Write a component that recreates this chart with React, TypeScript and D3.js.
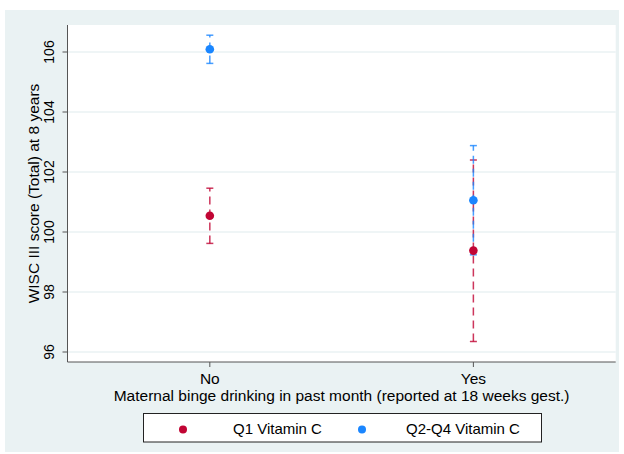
import React from "react";
import * as d3 from "d3";

const categories = ["No", "Yes"];
const seriesNames = ["Q1 Vitamin C", "Q2-Q4 Vitamin C"];
const seriesColors = ["#c10534", "#1a86ff"];
const q1Mean = [100.54, 99.38];
const q1Lower = [99.62, 96.35];
const q1Upper = [101.46, 102.4];
const q24Mean = [106.09, 101.06];
const q24Lower = [105.62, 99.24];
const q24Upper = [106.56, 102.88];
const yTicks = [96, 98, 100, 102, 104, 106];
const yTitle = "WISC III score (Total) at 8 years";
const xTitle = "Maternal binge drinking in past month (reported at 18 weeks gest.)";

const W = 624, H = 454;
const plot = { left: 67.5, right: 615.7, top: 25, bottom: 362 };
const font = "'Liberation Sans', Arial, Helvetica, sans-serif";

export default function App() {
  const x = d3.scalePoint<string>().domain(categories).range([plot.left, plot.right]).padding(0.54);
  const y = d3.scaleLinear().domain([96, 106]).range([352, 52]);
  const series = [
    { name: seriesNames[0], color: seriesColors[0], mean: q1Mean, lo: q1Lower, hi: q1Upper },
    { name: seriesNames[1], color: seriesColors[1], mean: q24Mean, lo: q24Lower, hi: q24Upper },
  ];
  const cy = (plot.top + plot.bottom) / 2;
  const cx = (plot.left + plot.right) / 2;
  return (
    <svg width={W} height={H} style={{ position: "absolute", left: 0, top: 0 }} fontFamily={font}>
      <rect x={0} y={0} width={W} height={H} fill="#ffffff" />
      <rect x={5} y={10} width={614} height={442} fill="#eaf2f3" />
      <rect x={plot.left} y={plot.top} width={plot.right - plot.left} height={plot.bottom - plot.top} fill="#ffffff" />
      {yTicks.map((t) => (
        <g key={t}>
          <line x1={plot.left} x2={plot.right} y1={y(t)} y2={y(t)} stroke="#eaf2f3" strokeWidth={1.5} />
          <line x1={plot.left - 5} x2={plot.left} y1={y(t)} y2={y(t)} stroke="#555" strokeWidth={1} />
          <text
            transform={`translate(${plot.left - 14},${y(t)}) rotate(-90)`}
            textAnchor="middle"
            fontSize={14}
            fill="#000"
          >
            {t}
          </text>
        </g>
      ))}
      <line x1={plot.left} x2={plot.left} y1={plot.top} y2={plot.bottom} stroke="#555" strokeWidth={1} />
      <line x1={plot.left} x2={plot.right} y1={plot.bottom} y2={plot.bottom} stroke="#555" strokeWidth={1} />
      {categories.map((c) => (
        <g key={c}>
          <line x1={x(c)} x2={x(c)} y1={plot.bottom} y2={plot.bottom + 5} stroke="#555" strokeWidth={1} />
          <text x={x(c)} y={384} textAnchor="middle" fontSize={15.5} fill="#000">
            {c}
          </text>
        </g>
      ))}
      <text x={cx} y={401} textAnchor="middle" fontSize={15.5} fill="#000">
        {xTitle}
      </text>
      <text transform={`translate(39,${cy}) rotate(-90)`} textAnchor="middle" fontSize={15.5} fill="#000">
        {yTitle}
      </text>
      {series.map((s) => (
        <g key={s.name}>
          {categories.map((c, i) => {
            const px = x(c) as number;
            return (
              <g key={c}>
                <line
                  x1={px}
                  x2={px}
                  y1={y(s.lo[i])}
                  y2={y(s.hi[i])}
                  stroke={s.color}
                  strokeWidth={1.5}
                  strokeDasharray="8,5"
                  opacity={0.8}
                />
                <line x1={px - 3.5} x2={px + 3.5} y1={y(s.lo[i])} y2={y(s.lo[i])} stroke={s.color} strokeWidth={1.5} opacity={0.8} />
                <line x1={px - 3.5} x2={px + 3.5} y1={y(s.hi[i])} y2={y(s.hi[i])} stroke={s.color} strokeWidth={1.5} opacity={0.8} />
              </g>
            );
          })}
        </g>
      ))}
      {series.map((s) => (
        <g key={s.name + "pts"}>
          {categories.map((c, i) => (
            <circle key={c} cx={x(c) as number} cy={y(s.mean[i])} r={4.3} fill={s.color} />
          ))}
        </g>
      ))}
      <rect x={143.5} y={413.5} width={398} height={28.5} fill="#ffffff" stroke="#222" strokeWidth={1} />
      {series.map((s, i) => {
        const dotX = i === 0 ? 183 : 362;
        const textX = i === 0 ? 233 : 406;
        return (
          <g key={s.name + "leg"}>
            <circle cx={dotX} cy={429.5} r={4} fill={s.color} />
            <text x={textX} y={433.5} fontSize={15} fill="#000">
              {s.name}
            </text>
          </g>
        );
      })}
    </svg>
  );
}
